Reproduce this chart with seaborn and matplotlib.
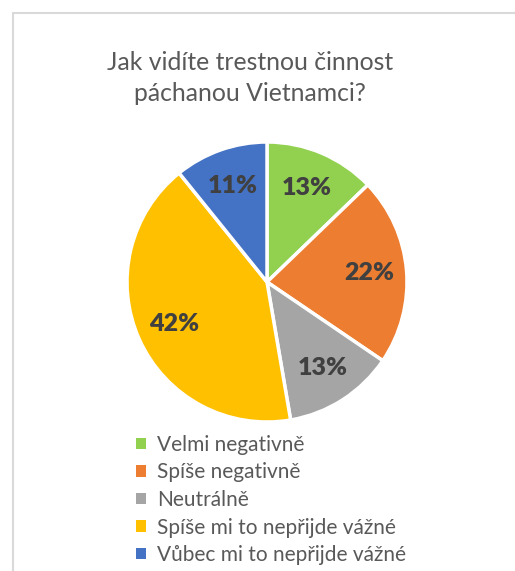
import matplotlib
matplotlib.use("Agg")
import matplotlib.pyplot as plt
from matplotlib.patches import Patch
from matplotlib.lines import Line2D
import seaborn as sns

title = "Jak vidíte trestnou činnost\npáchanou Vietnamci?"
categories = ["Velmi negativně", "Spíše negativně", "Neutrálně",
              "Spíše mi to nepřijde vážné", "Vůbec mi to nepřijde vážné"]
values = [12.8, 21.7, 12.8, 41.9, 10.8]
colors = ["#92D050", "#ED7D31", "#A5A5A5", "#FFC000", "#4472C4"]

sns.set_theme(style="white")
plt.rcParams["font.family"] = ["Lato", "DejaVu Sans"]

W, H = 515, 571
fig = plt.figure(figsize=(W / 100, H / 100), dpi=100)
fig.patch.set_facecolor("white")

# light frame (top and left edges visible)
fig.add_artist(Line2D([12.5 / W, 12.5 / W], [0, 1 - 13 / H], transform=fig.transFigure,
                      color="#D9D9D9", lw=1.5))
fig.add_artist(Line2D([12.5 / W, 1], [1 - 13 / H, 1 - 13 / H], transform=fig.transFigure,
                      color="#D9D9D9", lw=1.5))

cx, cy, r = 267, 282, 140
ax = fig.add_axes([(cx - r) / W, (H - cy - r) / H, 2 * r / W, 2 * r / H])
wedges, texts, autotexts = ax.pie(
    values, colors=colors, startangle=90, counterclock=False,
    autopct="%.0f%%", pctdistance=0.73,
    wedgeprops=dict(edgecolor="white", linewidth=2.5),
    textprops=dict(color="#404040", fontsize=18, fontweight="heavy"))
ax.set_xlim(-1, 1)
ax.set_ylim(-1, 1)
ax.set_aspect("equal")
ax.axis("off")

fig.text(250 / W, 1 - 78 / H, title, ha="center", va="center", fontsize=17.8,
         color="#595959", linespacing=1.42)

handles = [Patch(facecolor=c, edgecolor="none") for c in colors]
fig.legend(handles, categories, loc="upper left", bbox_to_anchor=(136 / W, 1 - 435 / H),
           frameon=False, fontsize=15, labelcolor="#595959",
           handlelength=0.48, handleheight=0.48, handletextpad=0.55,
           labelspacing=0.36, borderaxespad=0, borderpad=0)

fig.savefig("out.png", dpi=100, facecolor="white")
